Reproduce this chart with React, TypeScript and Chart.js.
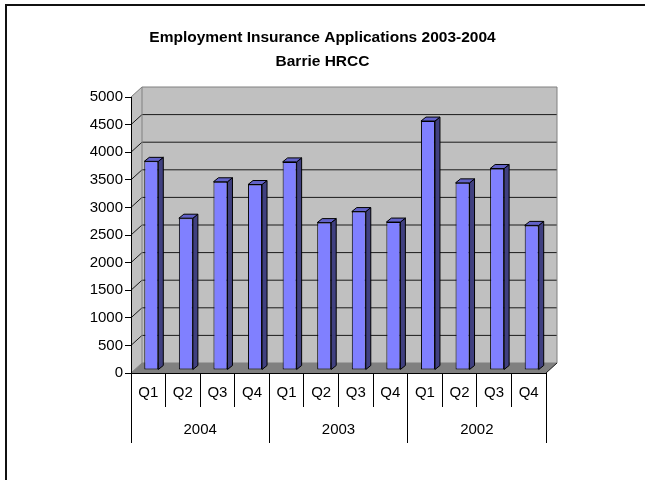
import React, { useEffect, useRef } from 'react';
import { Chart, registerables } from 'chart.js';

Chart.register(...registerables);

// ---- data ----
const quarters = ['Q1', 'Q2', 'Q3', 'Q4'];
const years = ['2004', '2003', '2002'];
const applications = [3780, 2750, 3410, 3360, 3770, 2670, 2870, 2680, 4510, 3390, 3650, 2620];
const titleLines = ['Employment Insurance Applications 2003-2004', 'Barrie HRCC'];
const yMin = 0;
const yMax = 5000;
const yStep = 500;

// ---- style ----
const FONT = "'Liberation Sans', Arial, sans-serif";
const WALL_DX = 11;
const WALL_DY = -10;
const BAR_SHIFT_X = 3;
const BAR_SHIFT_Y = -3;
const BAR_DX = 5;
const BAR_DY = -4;

function poly(ctx: CanvasRenderingContext2D, pts: number[][], fill: string | null, stroke: string | null) {
  ctx.beginPath();
  ctx.moveTo(pts[0][0], pts[0][1]);
  for (let i = 1; i < pts.length; i++) ctx.lineTo(pts[i][0], pts[i][1]);
  ctx.closePath();
  if (fill) {
    ctx.fillStyle = fill;
    ctx.fill();
  }
  if (stroke) {
    ctx.strokeStyle = stroke;
    ctx.lineWidth = 1;
    ctx.stroke();
  }
}

const threeD = {
  id: 'threeD',
  beforeDraw(chart: any) {
    const ctx: CanvasRenderingContext2D = chart.ctx;
    const ca = chart.chartArea;
    ctx.save();
    ctx.fillStyle = '#ffffff';
    ctx.fillRect(0, 0, chart.width, chart.height);
    ctx.strokeStyle = '#111';
    ctx.lineWidth = 2;
    ctx.strokeRect(6, 5, chart.width + 40, chart.height + 40);

    const L = ca.left, R = ca.right, T = ca.top, B = ca.bottom;
    // back wall
    poly(ctx, [[L + WALL_DX, T + WALL_DY], [R + WALL_DX, T + WALL_DY], [R + WALL_DX, B + WALL_DY], [L + WALL_DX, B + WALL_DY]], '#C0C0C0', null);
    // side wall
    poly(ctx, [[L, T], [L + WALL_DX, T + WALL_DY], [L + WALL_DX, B + WALL_DY], [L, B]], '#C0C0C0', null);
    // floor
    poly(ctx, [[L, B], [L + WALL_DX, B + WALL_DY], [R + WALL_DX, B + WALL_DY], [R, B]], '#808080', null);

    // gridlines
    const ys = chart.scales.y;
    ctx.lineWidth = 1;
    ys.ticks.forEach((t: any) => {
      if (t.value === yMin || t.value === yMax) return;
      const py = ys.getPixelForValue(t.value);
      ctx.strokeStyle = '#1a1a1a';
      ctx.beginPath();
      ctx.moveTo(L, py);
      ctx.lineTo(L + WALL_DX, py + WALL_DY);
      ctx.lineTo(R + WALL_DX, py + WALL_DY);
      ctx.stroke();
    });
    // edges
    ctx.strokeStyle = '#808080';
    ctx.beginPath();
    ctx.moveTo(L, T);
    ctx.lineTo(L + WALL_DX, T + WALL_DY);
    ctx.lineTo(R + WALL_DX, T + WALL_DY);
    ctx.lineTo(R + WALL_DX, B + WALL_DY);
    ctx.moveTo(L + WALL_DX, T + WALL_DY);
    ctx.lineTo(L + WALL_DX, B + WALL_DY);
    ctx.lineTo(L, B);
    ctx.moveTo(L + WALL_DX, B + WALL_DY);
    ctx.lineTo(R + WALL_DX, B + WALL_DY);
    ctx.stroke();
    ctx.strokeStyle = '#1a1a1a';
    ctx.beginPath();
    ctx.moveTo(R, B);
    ctx.lineTo(R + WALL_DX, B + WALL_DY);
    ctx.stroke();
    ctx.restore();
  },
  beforeDatasetsDraw(chart: any) {
    chart.ctx.save();
    chart.ctx.translate(BAR_SHIFT_X, BAR_SHIFT_Y);
  },
  afterDatasetsDraw(chart: any) {
    const ctx: CanvasRenderingContext2D = chart.ctx;
    const meta = chart.getDatasetMeta(0);
    meta.data.forEach((bar: any) => {
      const p = bar.getProps(['x', 'y', 'base', 'width'], true);
      const left = p.x - p.width / 2;
      const right = p.x + p.width / 2;
      const top = Math.min(p.y, p.base);
      const bottom = Math.max(p.y, p.base);
      // side face
      poly(ctx, [[right, top], [right + BAR_DX, top + BAR_DY], [right + BAR_DX, bottom + BAR_DY], [right, bottom]], '#404080', '#000');
      // top face
      poly(ctx, [[left, top], [left + BAR_DX, top + BAR_DY], [right + BAR_DX, top + BAR_DY], [right, top]], '#6262C8', '#000');
    });
    ctx.restore();
  },
};

export default function App() {
  const ref = useRef<HTMLCanvasElement | null>(null);

  useEffect(() => {
    if (!ref.current) return;
    const labels = years.flatMap(() => quarters);
    const chart = new Chart(ref.current, {
      type: 'bar',
      data: {
        labels,
        datasets: [
          {
            data: applications,
            backgroundColor: '#8080FF',
            borderColor: '#000',
            borderWidth: 1,
            borderSkipped: false,
            categoryPercentage: 1,
            barPercentage: 0.405,
            clip: false as any,
          },
        ],
      },
      options: {
        responsive: false,
        animation: false,
        devicePixelRatio: 1,
        layout: { padding: { left: 0, right: 0, top: 0, bottom: 37 } },
        plugins: {
          legend: { display: false },
          tooltip: { enabled: false },
          title: {
            display: true,
            text: titleLines,
            color: '#000',
            font: { family: FONT, size: 15.5, weight: 'bold', lineHeight: 24 / 15.5 },
            padding: { top: 26, bottom: 23 },
          },
        },
        scales: {
          x: {
            type: 'category',
            position: 'bottom',
            weight: 0,
            offset: true,
            grid: { offset: true, drawOnChartArea: false, drawTicks: true, tickLength: 34, color: '#000', lineWidth: 1 },
            border: { display: true, color: '#000' },
            ticks: { color: '#000', font: { family: FONT, size: 15 }, padding: -23, maxRotation: 0, autoSkip: false },
            afterFit: (s: any) => { s.height = 34; },
          },
          x2: {
            type: 'category',
            position: 'bottom',
            weight: 1,
            labels: years,
            offset: true,
            grid: { offset: true, drawOnChartArea: false, drawTicks: true, tickLength: 36, color: '#000', lineWidth: 1 },
            border: { display: false },
            ticks: { color: '#000', font: { family: FONT, size: 15 }, padding: -22, maxRotation: 0, autoSkip: false },
            afterFit: (s: any) => { s.height = 36; },
          },
          y: {
            type: 'linear',
            position: 'left',
            min: yMin,
            max: yMax,
            grid: { drawOnChartArea: false, drawTicks: true, tickLength: 6, color: '#000' },
            border: { display: true, color: '#000' },
            ticks: {
              stepSize: yStep,
              color: '#000',
              font: { family: FONT, size: 15 },
              padding: 2,
              callback: (v: any) => String(v),
            },
            afterFit: (s: any) => { s.width = 131; },
          },
          y2: {
            type: 'linear',
            position: 'right',
            display: true,
            grid: { display: false, drawTicks: false },
            border: { display: false },
            ticks: { display: false },
            afterFit: (s: any) => { s.width = 99; },
          },
        },
      } as any,
      plugins: [threeD],
    });
    return () => chart.destroy();
  }, []);

  return (
    <div style={{ position: 'absolute', left: 0, top: 0, width: 645, height: 480, background: '#fff' }}>
      <canvas ref={ref} width={645} height={480} style={{ display: 'block' }} />
    </div>
  );
}
